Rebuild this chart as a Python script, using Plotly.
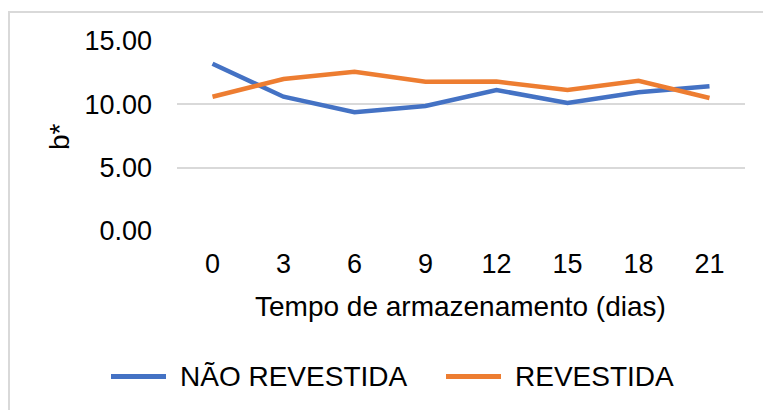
import plotly.graph_objects as go

dias = ["0", "3", "6", "9", "12", "15", "18", "21"]
nao_revestida = [13.2, 10.6, 9.37, 9.87, 11.13, 10.1, 10.95, 11.42]
revestida = [10.6, 12.0, 12.57, 11.78, 11.8, 11.13, 11.86, 10.5]
series_names = ["NÃO REVESTIDA", "REVESTIDA"]
series_colors = ["#4472C4", "#ED7D31"]
y_ticks = [0, 5, 10, 15]
y_tick_text = ["0.00", "5.00", "10.00", "15.00"]
x_title = "Tempo de armazenamento (dias)"
y_title = "b*"

FONT = "Liberation Sans, Arial, sans-serif"
W, H = 763, 410
L, R, T, B = 177, 18, 41, 179
pw, ph = W - L - R, H - T - B

def px_x(p):
    return (p - L) / pw

def px_y(p):
    return (H - B - p) / ph

fig = go.Figure()
for name, vals, col in zip(series_names, [nao_revestida, revestida], series_colors):
    fig.add_trace(go.Scatter(x=dias, y=vals, mode="lines", name=name,
                             line=dict(color=col, width=4.5), showlegend=False))

# Manual legend
legend_pos = [(111, 166, 178), (446, 501, 513)]
for (x0, x1, xt), name, col in zip(legend_pos, series_names, series_colors):
    fig.add_shape(type="line", xref="paper", yref="paper",
                  x0=px_x(x0), x1=px_x(x1), y0=px_y(376.5), y1=px_y(376.5),
                  line=dict(color=col, width=5))
    fig.add_annotation(xref="paper", yref="paper", x=px_x(xt), y=px_y(376.5),
                       text=name, showarrow=False, xanchor="left", yanchor="middle",
                       font=dict(family=FONT, size=28, color="#000000"))

# Axis titles
fig.add_annotation(xref="paper", yref="paper", x=px_x(460.5), y=px_y(306),
                   text=x_title, showarrow=False, xanchor="center", yanchor="middle",
                   font=dict(family=FONT, size=28, color="#000000"))
fig.add_annotation(xref="paper", yref="paper", x=px_x(59), y=px_y(137),
                   text=y_title, showarrow=False, xanchor="center", yanchor="middle",
                   textangle=-90, font=dict(family=FONT, size=28, color="#000000"))

# Outer chart border
fig.add_shape(type="rect", xref="paper", yref="paper",
              x0=px_x(9), x1=px_x(790), y0=px_y(12), y1=px_y(440),
              line=dict(color="#D9D9D9", width=2), layer="below")

fig.update_xaxes(type="category", range=[-0.5, 7.5], showgrid=False, zeroline=False,
                 showline=False, ticks="", ticklabelstandoff=14,
                 tickfont=dict(family=FONT, size=27, color="#000000"))
fig.update_yaxes(range=[0, 15], tickvals=y_ticks, ticktext=y_tick_text,
                 showgrid=True, gridcolor="#D9D9D9", gridwidth=1.5, zeroline=False,
                 showline=False, ticks="", ticklabelstandoff=24,
                 tickfont=dict(family=FONT, size=27, color="#000000"))
fig.update_layout(width=W, height=H, margin=dict(l=L, r=R, t=T, b=B, pad=0),
                  paper_bgcolor="white", plot_bgcolor="white", showlegend=False)

fig.write_html("out.html", config={"displayModeBar": False},
               post_script="document.body.style.margin='0px';document.body.style.overflow='hidden';")
